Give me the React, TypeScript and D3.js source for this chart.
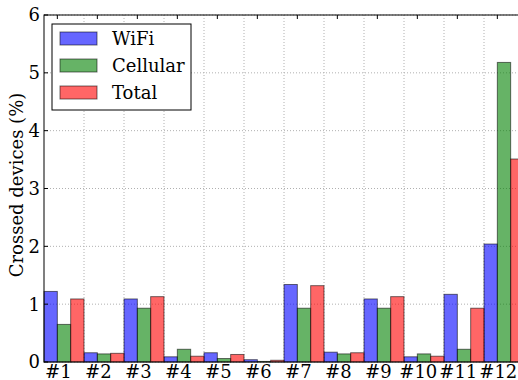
import React from "react";
import * as d3 from "d3";

// crossed devices per cluster
const categories = ["#1", "#2", "#3", "#4", "#5", "#6", "#7", "#8", "#9", "#10", "#11", "#12"];
const wifi = [1.22, 0.16, 1.09, 0.09, 0.16, 0.04, 1.34, 0.17, 1.09, 0.09, 1.17, 2.04];
const cellular = [0.65, 0.14, 0.93, 0.22, 0.06, 0.01, 0.93, 0.14, 0.93, 0.14, 0.22, 5.18];
const total = [1.09, 0.15, 1.13, 0.1, 0.13, 0.03, 1.32, 0.16, 1.13, 0.1, 0.93, 3.51];
const seriesNames = ["WiFi", "Cellular", "Total"];
const yTicks = [0, 1, 2, 3, 4, 5, 6];

const colors = ["#0000ff", "#008000", "#ff0000"];
const FONT = "DejaVu Serif";

const left = 44, top = 15, bottom = 362, right = 524;
const x = d3.scaleLinear().domain([0, 12]).range([left, right]);
const y = d3.scaleLinear().domain([0, 6]).range([bottom, top]);
const bw = 1 / 3;

export default function App() {
    const series = [wifi, cellular, total];
    const grid = { stroke: "#b0b0b0", strokeWidth: 1, strokeDasharray: "1,2" };

    return (
        <svg width={518} height={380} fontFamily={FONT} style={{ position: "absolute", left: 0, top: 0, fontFamily: FONT }}>
            {yTicks.map(t => (
                <line key={"h" + t} x1={left} x2={right} y1={y(t)} y2={y(t)} {...grid} />
            ))}
            {d3.range(1, 12).map(t => (
                <line key={"v" + t} x1={x(t)} x2={x(t)} y1={top} y2={bottom} {...grid} />
            ))}

            {series.map((vals, k) =>
                vals.map((d, i) => (
                    <rect
                        key={k + "-" + i}
                        x={x(i + k * bw)}
                        y={y(d)}
                        width={x(bw) - x(0)}
                        height={y(0) - y(d)}
                        fill={colors[k]}
                        fillOpacity={0.6}
                        stroke="#000"
                        strokeOpacity={0.55}
                    />
                ))
            )}

            <rect x={left} y={top} width={right - left} height={bottom - top} fill="none" stroke="#000" />

            {yTicks.map(t => (
                <g key={"yt" + t}>
                    <line x1={left} x2={left + 4} y1={y(t)} y2={y(t)} stroke="#000" />
                    <text x={left - 4} y={y(t)} dy="0.36em" textAnchor="end" fontSize={18} fontFamily={FONT} style={{ fontFamily: FONT }}>{t}</text>
                </g>
            ))}

            {categories.map((c, i) => (
                <g key={c}>
                    <line x1={x(i + bw)} x2={x(i + bw)} y1={top} y2={top + 4} stroke="#000" />
                    <text x={x(i + bw) + 1} y={bottom + 16} textAnchor="middle" fontSize={18} fontFamily={FONT} style={{ fontFamily: FONT }}>{c}</text>
                </g>
            ))}

            <text transform="translate(23,185) rotate(-90)" textAnchor="middle" fontSize={18} fontFamily={FONT} style={{ fontFamily: FONT }}>
                Crossed devices (%)
            </text>

            <g transform="translate(52,24)">
                <rect width={139} height={86} fill="#fff" stroke="#000" />
                {seriesNames.map((name, k) => (
                    <g key={name}>
                        <rect x={8} y={8 + k * 27} width={37} height={13} fill={colors[k]} fillOpacity={0.6} stroke="#000" strokeOpacity={0.55} />
                        <text x={60} y={8 + k * 27 + 6.5} dy="0.36em" fontSize={18} fontFamily={FONT} style={{ fontFamily: FONT }}>{name}</text>
                    </g>
                ))}
            </g>
        </svg>
    );
}
